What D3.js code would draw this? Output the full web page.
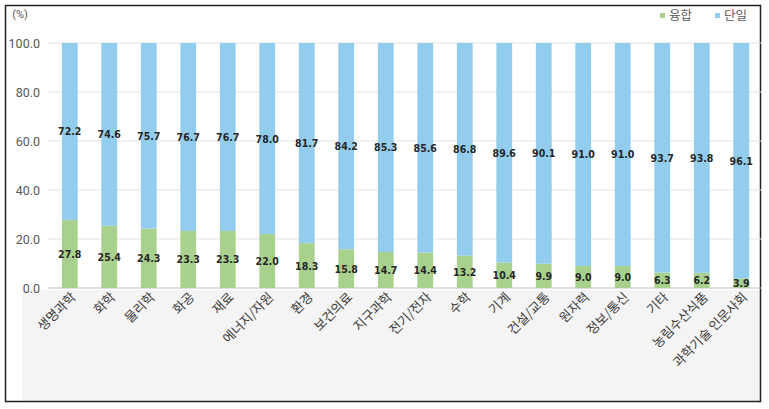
<html>
<script src="https://d3js.org/d3.v7.min.js"></script>
<body style="margin:0;background:#fff">
<svg width=769 height=409></svg>
<script>
const categories = ['생명과학','화학','물리학','화공','재료','에너지/자원','환경','보건의료','지구과학','전기/전자','수학','기계','건설/교통','원자력','정보/통신','기타','농림수산식품','과학기술 인문사회'];
const fusion = [27.8,25.4,24.3,23.3,23.3,22.0,18.3,15.8,14.7,14.4,13.2,10.4,9.9,9.0,9.0,6.3,6.2,3.9];
const single = [72.2,74.6,75.7,76.7,76.7,78.0,81.7,84.2,85.3,85.6,86.8,89.6,90.1,91.0,91.0,93.7,93.8,96.1];
const yTicks = [0,20,40,60,80,100];
const seriesNames = ['융합','단일'];
const colors = ['#a9d18e','#92cdee'];

const svg = d3.select('svg');
const kr = "'Noto Sans CJK KR', sans-serif";
const num = "'DejaVu Sans Condensed', 'DejaVu Sans', sans-serif";

// bottom gray area + outer frame
svg.append('rect').attr('x',22).attr('y',290).attr('width',738).attr('height',111).attr('fill','#f4f4f4');
svg.append('rect').attr('x',5.5).attr('y',5.5).attr('width',755).attr('height',396)
   .attr('fill','none').attr('stroke','#222').attr('stroke-width',1.5);

const x = d3.scaleBand().domain(categories).range([50,761]).paddingInner(0.6).paddingOuter(0.3);
const y = d3.scaleLinear().domain([0,100]).range([288,43]);

// grid
svg.append('g').selectAll('line').data(yTicks).join('line')
   .attr('x1',48).attr('x2',762).attr('y1',d=>y(d)).attr('y2',d=>y(d))
   .attr('stroke',d=>d==0?'#bfbfbf':'#e3e3e3').attr('stroke-width',1);

svg.append('g').selectAll('text').data(yTicks).join('text')
   .attr('x',40).attr('y',d=>y(d)+4.5).attr('text-anchor','end')
   .attr('font-family','Roboto, sans-serif').attr('font-size',12.5).attr('fill','#595959')
   .text(d=>d3.format('.1f')(d));
svg.append('text').attr('x',20).attr('y',18).attr('text-anchor','middle')
   .attr('font-family','Roboto, sans-serif').attr('font-size',11).attr('fill','#595959').text('(%)');

const data = categories.map((c,i)=>({c, f:fusion[i], s:single[i]}));
const g = svg.append('g');
g.selectAll('rect.f').data(data).join('rect').attr('class','f')
  .attr('x',d=>x(d.c)).attr('width',x.bandwidth())
  .attr('y',d=>y(d.f)).attr('height',d=>y(0)-y(d.f)).attr('fill',colors[0]);
g.selectAll('rect.s').data(data).join('rect').attr('class','s')
  .attr('x',d=>x(d.c)).attr('width',x.bandwidth())
  .attr('y',d=>y(d.f+d.s)).attr('height',d=>y(d.f)-y(d.f+d.s)).attr('fill',colors[1]);

g.selectAll('text.f').data(data).join('text').attr('class','f')
  .attr('x',d=>x(d.c)+x.bandwidth()/2).attr('y',d=>y(d.f/2)+4)
  .attr('text-anchor','middle').attr('font-family',num).attr('font-stretch','condensed')
  .attr('font-size',10.5).attr('font-weight','bold').attr('fill','#262626').text(d=>d.f.toFixed(1));
g.selectAll('text.s').data(data).join('text').attr('class','s')
  .attr('x',d=>x(d.c)+x.bandwidth()/2).attr('y',d=>y(d.f+d.s/2)+4)
  .attr('text-anchor','middle').attr('font-family',num).attr('font-stretch','condensed')
  .attr('font-size',10.5).attr('font-weight','bold').attr('fill','#262626').text(d=>d.s.toFixed(1));

// category labels
g.selectAll('text.c').data(data).join('text').attr('class','c')
  .attr('transform',d=>`translate(${x(d.c)+x.bandwidth()/2+7},${298}) rotate(-45)`)
  .attr('text-anchor','end').attr('font-family',kr).attr('font-size',13).attr('fill','#3a3a3a')
  .text(d=>d.c);

// legend
const leg = svg.append('g');
const lx = [660,715];
seriesNames.forEach((n,i)=>{
  leg.append('rect').attr('x',lx[i]).attr('y',13).attr('width',5).attr('height',5).attr('fill',colors[i]);
  leg.append('text').attr('x',lx[i]+9).attr('y',20).attr('font-family',kr).attr('font-size',12.5)
     .attr('fill','#595959').text(n);
});
</script>
</body>
</html>
